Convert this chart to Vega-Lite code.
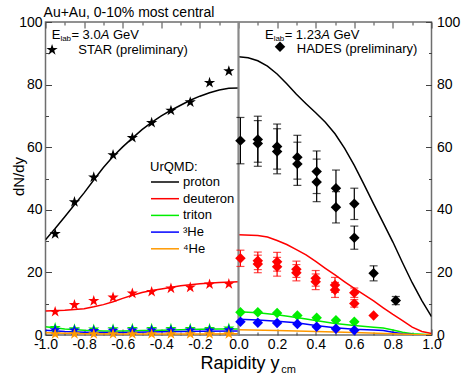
{
  "$schema": "https://vega.github.io/schema/vega-lite/v6.json",
  "width": 386,
  "height": 313,
  "autosize": {"type": "none"},
  "padding": {"left": 45.5, "top": 22, "right": 30.5, "bottom": 40},
  "background": "white",
  "config": {
    "font": "Liberation Sans",
    "view": {"stroke": "#6e6e6e", "strokeWidth": 1.5},
    "axis": {"domain": false, "grid": false, "tickColor": "#444444", "tickWidth": 1, "labelColor": "#000000", "labelFont": "Liberation Sans", "labelFontSize": 14, "titleFont": "Liberation Sans", "titleColor": "#000000", "titleFontWeight": "normal"}
  },
  "datasets": {
    "curves": [
      {"x": -1, "y": 30.4, "species": "proton", "side": "L"},
      {"x": -0.95, "y": 34.0, "species": "proton", "side": "L"},
      {"x": -0.9, "y": 37.8, "species": "proton", "side": "L"},
      {"x": -0.85, "y": 41.6, "species": "proton", "side": "L"},
      {"x": -0.8, "y": 45.4, "species": "proton", "side": "L"},
      {"x": -0.75, "y": 49.5, "species": "proton", "side": "L"},
      {"x": -0.7, "y": 53.5, "species": "proton", "side": "L"},
      {"x": -0.65, "y": 57.0, "species": "proton", "side": "L"},
      {"x": -0.6, "y": 60.1, "species": "proton", "side": "L"},
      {"x": -0.55, "y": 62.9, "species": "proton", "side": "L"},
      {"x": -0.5, "y": 65.6, "species": "proton", "side": "L"},
      {"x": -0.45, "y": 67.9, "species": "proton", "side": "L"},
      {"x": -0.4, "y": 70.0, "species": "proton", "side": "L"},
      {"x": -0.35, "y": 71.8, "species": "proton", "side": "L"},
      {"x": -0.3, "y": 73.4, "species": "proton", "side": "L"},
      {"x": -0.25, "y": 75.0, "species": "proton", "side": "L"},
      {"x": -0.2, "y": 76.3, "species": "proton", "side": "L"},
      {"x": -0.15, "y": 77.4, "species": "proton", "side": "L"},
      {"x": -0.1, "y": 78.3, "species": "proton", "side": "L"},
      {"x": -0.05, "y": 78.8, "species": "proton", "side": "L"},
      {"x": 0, "y": 78.9, "species": "proton", "side": "L"},
      {"x": 0, "y": 88.9, "species": "proton", "side": "R"},
      {"x": 0.05, "y": 88.6, "species": "proton", "side": "R"},
      {"x": 0.1, "y": 87.6, "species": "proton", "side": "R"},
      {"x": 0.15, "y": 85.9, "species": "proton", "side": "R"},
      {"x": 0.2, "y": 83.4, "species": "proton", "side": "R"},
      {"x": 0.25, "y": 80.3, "species": "proton", "side": "R"},
      {"x": 0.3, "y": 76.9, "species": "proton", "side": "R"},
      {"x": 0.35, "y": 73.9, "species": "proton", "side": "R"},
      {"x": 0.4, "y": 71.0, "species": "proton", "side": "R"},
      {"x": 0.45, "y": 68.0, "species": "proton", "side": "R"},
      {"x": 0.5, "y": 64.3, "species": "proton", "side": "R"},
      {"x": 0.55, "y": 59.6, "species": "proton", "side": "R"},
      {"x": 0.6, "y": 54.2, "species": "proton", "side": "R"},
      {"x": 0.65, "y": 48.1, "species": "proton", "side": "R"},
      {"x": 0.7, "y": 41.9, "species": "proton", "side": "R"},
      {"x": 0.75, "y": 35.8, "species": "proton", "side": "R"},
      {"x": 0.8, "y": 29.7, "species": "proton", "side": "R"},
      {"x": 0.85, "y": 23.1, "species": "proton", "side": "R"},
      {"x": 0.9, "y": 16.7, "species": "proton", "side": "R"},
      {"x": 0.95, "y": 11.0, "species": "proton", "side": "R"},
      {"x": 1, "y": 5.9, "species": "proton", "side": "R"},
      {"x": -1, "y": 7.7, "species": "deuteron", "side": "L"},
      {"x": -0.9, "y": 7.9, "species": "deuteron", "side": "L"},
      {"x": -0.8, "y": 8.4, "species": "deuteron", "side": "L"},
      {"x": -0.75, "y": 9.0, "species": "deuteron", "side": "L"},
      {"x": -0.7, "y": 9.7, "species": "deuteron", "side": "L"},
      {"x": -0.65, "y": 10.6, "species": "deuteron", "side": "L"},
      {"x": -0.6, "y": 11.7, "species": "deuteron", "side": "L"},
      {"x": -0.55, "y": 12.7, "species": "deuteron", "side": "L"},
      {"x": -0.5, "y": 13.6, "species": "deuteron", "side": "L"},
      {"x": -0.45, "y": 14.2, "species": "deuteron", "side": "L"},
      {"x": -0.4, "y": 14.7, "species": "deuteron", "side": "L"},
      {"x": -0.3, "y": 15.7, "species": "deuteron", "side": "L"},
      {"x": -0.2, "y": 16.4, "species": "deuteron", "side": "L"},
      {"x": -0.1, "y": 16.8, "species": "deuteron", "side": "L"},
      {"x": 0, "y": 17.0, "species": "deuteron", "side": "L"},
      {"x": 0, "y": 32.0, "species": "deuteron", "side": "R"},
      {"x": 0.1, "y": 31.8, "species": "deuteron", "side": "R"},
      {"x": 0.15, "y": 31.3, "species": "deuteron", "side": "R"},
      {"x": 0.2, "y": 30.2, "species": "deuteron", "side": "R"},
      {"x": 0.25, "y": 28.9, "species": "deuteron", "side": "R"},
      {"x": 0.3, "y": 27.3, "species": "deuteron", "side": "R"},
      {"x": 0.35, "y": 25.6, "species": "deuteron", "side": "R"},
      {"x": 0.4, "y": 23.5, "species": "deuteron", "side": "R"},
      {"x": 0.45, "y": 21.3, "species": "deuteron", "side": "R"},
      {"x": 0.5, "y": 19.2, "species": "deuteron", "side": "R"},
      {"x": 0.55, "y": 17.0, "species": "deuteron", "side": "R"},
      {"x": 0.6, "y": 14.9, "species": "deuteron", "side": "R"},
      {"x": 0.65, "y": 12.9, "species": "deuteron", "side": "R"},
      {"x": 0.7, "y": 10.9, "species": "deuteron", "side": "R"},
      {"x": 0.75, "y": 8.7, "species": "deuteron", "side": "R"},
      {"x": 0.8, "y": 6.6, "species": "deuteron", "side": "R"},
      {"x": 0.85, "y": 4.6, "species": "deuteron", "side": "R"},
      {"x": 0.9, "y": 2.5, "species": "deuteron", "side": "R"},
      {"x": 0.95, "y": 1.1, "species": "deuteron", "side": "R"},
      {"x": 1, "y": 0.5, "species": "deuteron", "side": "R"},
      {"x": -1, "y": 2.6, "species": "triton", "side": "L"},
      {"x": -0.9, "y": 1.9, "species": "triton", "side": "L"},
      {"x": -0.8, "y": 1.5, "species": "triton", "side": "L"},
      {"x": -0.7, "y": 1.3, "species": "triton", "side": "L"},
      {"x": -0.6, "y": 1.3, "species": "triton", "side": "L"},
      {"x": -0.5, "y": 1.4, "species": "triton", "side": "L"},
      {"x": -0.4, "y": 1.5, "species": "triton", "side": "L"},
      {"x": -0.3, "y": 1.7, "species": "triton", "side": "L"},
      {"x": -0.2, "y": 1.8, "species": "triton", "side": "L"},
      {"x": -0.1, "y": 1.9, "species": "triton", "side": "L"},
      {"x": 0, "y": 1.9, "species": "triton", "side": "L"},
      {"x": 0, "y": 7.4, "species": "triton", "side": "R"},
      {"x": 0.1, "y": 7.1, "species": "triton", "side": "R"},
      {"x": 0.2, "y": 6.5, "species": "triton", "side": "R"},
      {"x": 0.3, "y": 5.6, "species": "triton", "side": "R"},
      {"x": 0.4, "y": 4.6, "species": "triton", "side": "R"},
      {"x": 0.5, "y": 3.7, "species": "triton", "side": "R"},
      {"x": 0.6, "y": 3.0, "species": "triton", "side": "R"},
      {"x": 0.7, "y": 2.5, "species": "triton", "side": "R"},
      {"x": 0.75, "y": 2.2, "species": "triton", "side": "R"},
      {"x": 0.8, "y": 1.6, "species": "triton", "side": "R"},
      {"x": 0.85, "y": 0.9, "species": "triton", "side": "R"},
      {"x": 0.9, "y": 0.4, "species": "triton", "side": "R"},
      {"x": 1, "y": 0.1, "species": "triton", "side": "R"},
      {"x": -1, "y": 1.5, "species": "³He", "side": "L"},
      {"x": -0.9, "y": 1.1, "species": "³He", "side": "L"},
      {"x": -0.8, "y": 0.9, "species": "³He", "side": "L"},
      {"x": -0.7, "y": 0.8, "species": "³He", "side": "L"},
      {"x": -0.6, "y": 0.8, "species": "³He", "side": "L"},
      {"x": -0.4, "y": 1.0, "species": "³He", "side": "L"},
      {"x": -0.2, "y": 1.2, "species": "³He", "side": "L"},
      {"x": 0, "y": 1.3, "species": "³He", "side": "L"},
      {"x": 0, "y": 5.0, "species": "³He", "side": "R"},
      {"x": 0.1, "y": 4.8, "species": "³He", "side": "R"},
      {"x": 0.2, "y": 4.4, "species": "³He", "side": "R"},
      {"x": 0.3, "y": 3.9, "species": "³He", "side": "R"},
      {"x": 0.4, "y": 3.0, "species": "³He", "side": "R"},
      {"x": 0.5, "y": 2.3, "species": "³He", "side": "R"},
      {"x": 0.6, "y": 1.8, "species": "³He", "side": "R"},
      {"x": 0.7, "y": 1.6, "species": "³He", "side": "R"},
      {"x": 0.75, "y": 1.4, "species": "³He", "side": "R"},
      {"x": 0.8, "y": 0.9, "species": "³He", "side": "R"},
      {"x": 0.85, "y": 0.4, "species": "³He", "side": "R"},
      {"x": 0.9, "y": 0.15, "species": "³He", "side": "R"},
      {"x": 1, "y": 0.05, "species": "³He", "side": "R"},
      {"x": -1, "y": 0.7, "species": "⁴He", "side": "L"},
      {"x": -0.8, "y": 0.4, "species": "⁴He", "side": "L"},
      {"x": -0.6, "y": 0.3, "species": "⁴He", "side": "L"},
      {"x": -0.4, "y": 0.3, "species": "⁴He", "side": "L"},
      {"x": -0.2, "y": 0.35, "species": "⁴He", "side": "L"},
      {"x": 0, "y": 0.4, "species": "⁴He", "side": "L"},
      {"x": 0, "y": 1.7, "species": "⁴He", "side": "R"},
      {"x": 0.2, "y": 1.4, "species": "⁴He", "side": "R"},
      {"x": 0.4, "y": 1.1, "species": "⁴He", "side": "R"},
      {"x": 0.6, "y": 0.8, "species": "⁴He", "side": "R"},
      {"x": 0.8, "y": 0.4, "species": "⁴He", "side": "R"},
      {"x": 0.9, "y": 0.15, "species": "⁴He", "side": "R"},
      {"x": 1, "y": 0.05, "species": "⁴He", "side": "R"}
    ],
    "star": [
      {"x": -0.95, "y": 32.3, "species": "proton"},
      {"x": -0.85, "y": 42.5, "species": "proton"},
      {"x": -0.75, "y": 50.4, "species": "proton"},
      {"x": -0.65, "y": 57.5, "species": "proton"},
      {"x": -0.55, "y": 63.0, "species": "proton"},
      {"x": -0.45, "y": 67.8, "species": "proton"},
      {"x": -0.35, "y": 71.7, "species": "proton"},
      {"x": -0.25, "y": 74.4, "species": "proton"},
      {"x": -0.15, "y": 80.6, "species": "proton"},
      {"x": -0.05, "y": 84.3, "species": "proton"},
      {"x": -0.95, "y": 7.4, "species": "deuteron"},
      {"x": -0.85, "y": 9.6, "species": "deuteron"},
      {"x": -0.75, "y": 10.9, "species": "deuteron"},
      {"x": -0.65, "y": 12.0, "species": "deuteron"},
      {"x": -0.55, "y": 13.3, "species": "deuteron"},
      {"x": -0.45, "y": 13.8, "species": "deuteron"},
      {"x": -0.35, "y": 14.9, "species": "deuteron"},
      {"x": -0.25, "y": 15.2, "species": "deuteron"},
      {"x": -0.15, "y": 16.2, "species": "deuteron"},
      {"x": -0.05, "y": 16.3, "species": "deuteron"},
      {"x": -0.95, "y": 2.3, "species": "triton"},
      {"x": -0.85, "y": 1.9, "species": "triton"},
      {"x": -0.75, "y": 1.8, "species": "triton"},
      {"x": -0.65, "y": 1.9, "species": "triton"},
      {"x": -0.55, "y": 2.0, "species": "triton"},
      {"x": -0.45, "y": 2.0, "species": "triton"},
      {"x": -0.35, "y": 2.0, "species": "triton"},
      {"x": -0.25, "y": 2.0, "species": "triton"},
      {"x": -0.15, "y": 2.0, "species": "triton"},
      {"x": -0.05, "y": 2.1, "species": "triton"},
      {"x": -0.95, "y": 1.6, "species": "³He"},
      {"x": -0.85, "y": 1.5, "species": "³He"},
      {"x": -0.75, "y": 1.3, "species": "³He"},
      {"x": -0.65, "y": 1.4, "species": "³He"},
      {"x": -0.55, "y": 1.5, "species": "³He"},
      {"x": -0.45, "y": 1.5, "species": "³He"},
      {"x": -0.35, "y": 1.5, "species": "³He"},
      {"x": -0.25, "y": 1.5, "species": "³He"},
      {"x": -0.15, "y": 1.5, "species": "³He"},
      {"x": -0.05, "y": 1.6, "species": "³He"},
      {"x": -0.95, "y": 0.3, "species": "⁴He"},
      {"x": -0.85, "y": 0.3, "species": "⁴He"},
      {"x": -0.75, "y": 0.3, "species": "⁴He"},
      {"x": -0.65, "y": 0.3, "species": "⁴He"},
      {"x": -0.55, "y": 0.3, "species": "⁴He"},
      {"x": -0.45, "y": 0.3, "species": "⁴He"},
      {"x": -0.35, "y": 0.3, "species": "⁴He"},
      {"x": -0.25, "y": 0.3, "species": "⁴He"},
      {"x": -0.15, "y": 0.3, "species": "⁴He"},
      {"x": -0.05, "y": 0.3, "species": "⁴He"}
    ],
    "hades": [
      {"x": 0.01, "y": 62.1, "lo": 54.7, "hi": 69.5, "species": "proton"},
      {"x": 0.1, "y": 62.5, "lo": 55.2, "hi": 69.9, "species": "proton"},
      {"x": 0.1, "y": 61.2, "lo": 53.9, "hi": 68.5, "species": "proton"},
      {"x": 0.2, "y": 60.2, "lo": 53.0, "hi": 67.4, "species": "proton"},
      {"x": 0.2, "y": 58.6, "lo": 51.5, "hi": 65.9, "species": "proton"},
      {"x": 0.305, "y": 56.8, "lo": 49.8, "hi": 63.8, "species": "proton"},
      {"x": 0.305, "y": 54.6, "lo": 47.8, "hi": 61.6, "species": "proton"},
      {"x": 0.405, "y": 52.2, "lo": 45.2, "hi": 58.8, "species": "proton"},
      {"x": 0.405, "y": 48.9, "lo": 42.6, "hi": 56.2, "species": "proton"},
      {"x": 0.505, "y": 46.9, "lo": 41.1, "hi": 52.7, "species": "proton"},
      {"x": 0.505, "y": 40.8, "lo": 35.8, "hi": 45.8, "species": "proton"},
      {"x": 0.6, "y": 41.9, "lo": 36.9, "hi": 46.9, "species": "proton"},
      {"x": 0.6, "y": 31.1, "lo": 27.4, "hi": 34.8, "species": "proton"},
      {"x": 0.7, "y": 19.7, "lo": 17.3, "hi": 22.1, "species": "proton"},
      {"x": 0.815, "y": 11.0, "lo": 9.7, "hi": 12.3, "species": "proton"},
      {"x": 0.01, "y": 24.5, "lo": 21.9, "hi": 27.1, "species": "deuteron"},
      {"x": 0.1, "y": 23.7, "lo": 20.9, "hi": 26.5, "species": "deuteron"},
      {"x": 0.1, "y": 22.7, "lo": 19.9, "hi": 25.5, "species": "deuteron"},
      {"x": 0.2, "y": 23.4, "lo": 20.4, "hi": 26.4, "species": "deuteron"},
      {"x": 0.2, "y": 21.8, "lo": 18.8, "hi": 24.8, "species": "deuteron"},
      {"x": 0.3, "y": 21.0, "lo": 18.4, "hi": 23.6, "species": "deuteron"},
      {"x": 0.3, "y": 19.9, "lo": 17.3, "hi": 22.5, "species": "deuteron"},
      {"x": 0.4, "y": 18.1, "lo": 15.6, "hi": 20.6, "species": "deuteron"},
      {"x": 0.4, "y": 17.0, "lo": 14.5, "hi": 19.5, "species": "deuteron"},
      {"x": 0.5, "y": 16.0, "lo": 13.6, "hi": 18.4, "species": "deuteron"},
      {"x": 0.5, "y": 14.4, "lo": 12.0, "hi": 16.8, "species": "deuteron"},
      {"x": 0.6, "y": 13.5, "lo": 12.0, "hi": 15.0, "species": "deuteron"},
      {"x": 0.6, "y": 10.1, "lo": 8.9, "hi": 11.3, "species": "deuteron"},
      {"x": 0.7, "y": 6.2, "lo": null, "hi": null, "species": "deuteron"},
      {"x": 0.01, "y": 7.3, "lo": null, "hi": null, "species": "triton"},
      {"x": 0.1, "y": 7.3, "lo": null, "hi": null, "species": "triton"},
      {"x": 0.2, "y": 7.0, "lo": null, "hi": null, "species": "triton"},
      {"x": 0.305, "y": 6.2, "lo": null, "hi": null, "species": "triton"},
      {"x": 0.405, "y": 5.5, "lo": null, "hi": null, "species": "triton"},
      {"x": 0.505, "y": 4.7, "lo": null, "hi": null, "species": "triton"},
      {"x": 0.6, "y": 4.2, "lo": null, "hi": null, "species": "triton"},
      {"x": 0.01, "y": 4.2, "lo": null, "hi": null, "species": "³He"},
      {"x": 0.1, "y": 3.9, "lo": null, "hi": null, "species": "³He"},
      {"x": 0.2, "y": 3.8, "lo": null, "hi": null, "species": "³He"},
      {"x": 0.305, "y": 3.5, "lo": null, "hi": null, "species": "³He"},
      {"x": 0.405, "y": 2.6, "lo": null, "hi": null, "species": "³He"},
      {"x": 0.505, "y": 2.0, "lo": null, "hi": null, "species": "³He"},
      {"x": 0.6, "y": 1.5, "lo": null, "hi": null, "species": "³He"}
    ]
  },
  "layer": [
    {
      "data": {"name": "curves"},
      "mark": {"type": "line", "strokeWidth": 1.5, "clip": true},
      "encoding": {
        "x": {"field": "x", "type": "quantitative", "scale": {"domain": [-1, 1], "nice": false, "zero": false},
          "axis": {"orient": "bottom", "values": [-1, -0.9, -0.8, -0.7, -0.6, -0.5, -0.4, -0.3, -0.2, -0.1, 0, 0.1, 0.2, 0.3, 0.4, 0.5, 0.6, 0.7, 0.8, 0.9, 1],
            "labelExpr": "round(datum.value*10) % 2 == 0 ? (datum.value < -0.001 ? '-' : '') + format(abs(datum.value), '.1f') : ''",
            "tickSize": {"condition": {"test": "round(datum.value*10) % 2 != 0", "value": -3}, "value": -6},
            "labelPadding": 8.5, "labelFlush": false, "labelOverlap": false,
            "title": "Rapidity y", "titleFontSize": 18, "titleAlign": "left", "titleAnchor": "start", "titleX": 154.5, "titleY": 33.5, "titleBaseline": "alphabetic"}},
        "y": {"field": "y", "type": "quantitative", "scale": {"domain": [0, 100], "nice": false, "zero": false},
          "axis": {"orient": "left", "values": [0, 10, 20, 30, 40, 50, 60, 70, 80, 90, 100],
            "labelExpr": "datum.value % 20 == 0 ? datum.label : ''",
            "tickSize": {"condition": {"test": "datum.value % 20 != 0", "value": -3}, "value": -6},
            "labelPadding": 9.5, "labelFlush": false, "labelOverlap": false,
            "title": "dN/dy", "titleFontSize": 15, "titleAngle": 270, "titleAlign": "center", "titleBaseline": "middle", "titleX": -27.5, "titleY": 154}},
        "color": {"field": "species", "type": "nominal",
          "scale": {"domain": ["proton", "deuteron", "triton", "³He", "⁴He"], "range": ["#000000", "#ff0000", "#00ee00", "#0000ff", "#ff9900"]},
          "legend": {"title": "UrQMD:", "orient": "none", "legendX": 104.5, "legendY": 139, "symbolType": "M-1,0L3,0", "symbolSize": 196, "symbolStrokeWidth": 1.5, "labelFontSize": 13, "titleFontSize": 13, "titleFontWeight": "normal", "labelFont": "Liberation Sans", "titleFont": "Liberation Sans", "labelColor": "#000000", "titleColor": "#000000", "labelOffset": 17, "rowPadding": 1.7, "titlePadding": 0, "padding": 0}},
        "detail": {"field": "side"}
      }
    },
    {
      "data": {"values": [{}]},
      "mark": {"type": "rule", "color": "#8a8a8a", "strokeWidth": 2.2},
      "encoding": {"x": {"datum": 0, "axis": null}}
    },
    {
      "data": {"name": "star"},
      "mark": {"type": "point", "filled": true, "opacity": 1, "size": 140, "shape": "M0,-1L0.225,-0.309L0.951,-0.309L0.363,0.118L0.588,0.809L0,0.382L-0.588,0.809L-0.363,0.118L-0.951,-0.309L-0.225,-0.309Z"},
      "encoding": {
        "x": {"field": "x", "type": "quantitative",
          "axis": {"orient": "top", "values": [-1, -0.9, -0.8, -0.7, -0.6, -0.5, -0.4, -0.3, -0.2, -0.1, 0, 0.1, 0.2, 0.3, 0.4, 0.5, 0.6, 0.7, 0.8, 0.9, 1], "labels": false, "title": null,
            "tickSize": {"condition": {"test": "round(datum.value*10) % 2 != 0", "value": -3}, "value": -6}}},
        "y": {"field": "y", "type": "quantitative",
          "axis": {"orient": "right", "values": [0, 10, 20, 30, 40, 50, 60, 70, 80, 90, 100],
            "labelExpr": "datum.value % 20 == 0 ? datum.label : ''",
            "tickSize": {"condition": {"test": "datum.value % 20 != 0", "value": -3}, "value": -6},
            "labelPadding": 11, "labelFlush": false, "labelOverlap": false, "title": null}},
        "color": {"field": "species", "type": "nominal", "legend": null}
      }
    },
    {
      "data": {"name": "hades"},
      "mark": {"type": "rule", "strokeWidth": 1.2},
      "encoding": {
        "x": {"field": "x", "type": "quantitative", "axis": null},
        "y": {"field": "lo", "type": "quantitative", "axis": null},
        "y2": {"field": "hi"},
        "color": {"field": "species", "type": "nominal", "legend": null}
      }
    },
    {
      "data": {"name": "hades"},
      "mark": {"type": "tick", "orient": "horizontal", "size": 8, "thickness": 1.2},
      "encoding": {
        "x": {"field": "x", "type": "quantitative", "axis": null},
        "y": {"field": "lo", "type": "quantitative", "axis": null},
        "color": {"field": "species", "type": "nominal", "legend": null}
      }
    },
    {
      "data": {"name": "hades"},
      "mark": {"type": "tick", "orient": "horizontal", "size": 8, "thickness": 1.2},
      "encoding": {
        "x": {"field": "x", "type": "quantitative", "axis": null},
        "y": {"field": "hi", "type": "quantitative", "axis": null},
        "color": {"field": "species", "type": "nominal", "legend": null}
      }
    },
    {
      "data": {"name": "hades"},
      "mark": {"type": "point", "filled": true, "opacity": 1, "size": 110, "shape": "diamond"},
      "encoding": {
        "x": {"field": "x", "type": "quantitative", "axis": null},
        "y": {"field": "y", "type": "quantitative", "axis": null},
        "color": {"field": "species", "type": "nominal", "legend": null}
      }
    },
    {
      "data": {"values": [{}]},
      "mark": {"type": "text", "text": "Au+Au, 0-10% most central", "align": "left", "baseline": "alphabetic", "fontSize": 14, "font": "Liberation Sans", "color": "#000000"},
      "encoding": {"x": {"datum": -1.01, "axis": null}, "y": {"datum": 101.5, "axis": null}}
    },
    {
      "data": {"values": [{}]},
      "mark": {"type": "point", "filled": true, "opacity": 1, "size": 140, "color": "#000000", "shape": "M0,-1L0.225,-0.309L0.951,-0.309L0.363,0.118L0.588,0.809L0,0.382L-0.588,0.809L-0.363,0.118L-0.951,-0.309L-0.225,-0.309Z"},
      "encoding": {"x": {"datum": -0.966, "axis": null}, "y": {"datum": 91.1, "axis": null}}
    },
    {
      "data": {"values": [{}]},
      "mark": {"type": "point", "filled": true, "opacity": 1, "size": 110, "color": "#000000", "shape": "diamond"},
      "encoding": {"x": {"datum": 0.215, "axis": null}, "y": {"datum": 92.1, "axis": null}}
    },
    {
      "data": {"values": [{}]},
      "mark": {"type": "text", "text": "STAR (preliminary)", "align": "left", "baseline": "middle", "fontSize": 13, "font": "Liberation Sans", "color": "#000000"},
      "encoding": {"x": {"datum": -0.83, "axis": null}, "y": {"datum": 91.1, "axis": null}}
    },
    {
      "data": {"values": [{}]},
      "mark": {"type": "text", "text": "HADES (preliminary)", "align": "left", "baseline": "middle", "fontSize": 13, "font": "Liberation Sans", "color": "#000000"},
      "encoding": {"x": {"datum": 0.302, "axis": null}, "y": {"datum": 91.3, "axis": null}}
    },
    {
      "data": {"values": [{}]},
      "mark": {"type": "text", "text": "E", "align": "left", "baseline": "alphabetic", "fontSize": 13, "font": "Liberation Sans", "color": "#000000"},
      "encoding": {"x": {"datum": -0.968, "axis": null}, "y": {"datum": 94.6, "axis": null}}
    },
    {
      "data": {"values": [{}]},
      "mark": {"type": "text", "text": "lab", "align": "left", "baseline": "alphabetic", "fontSize": 8, "dx": 8.7, "font": "Liberation Sans", "color": "#000000"},
      "encoding": {"x": {"datum": -0.968, "axis": null}, "y": {"datum": 93.9, "axis": null}}
    },
    {
      "data": {"values": [{}]},
      "mark": {"type": "text", "text": "= 3.0", "align": "left", "baseline": "alphabetic", "fontSize": 13, "dx": 19.7, "font": "Liberation Sans", "color": "#000000"},
      "encoding": {"x": {"datum": -0.968, "axis": null}, "y": {"datum": 94.6, "axis": null}}
    },
    {
      "data": {"values": [{}]},
      "mark": {"type": "text", "text": "A", "align": "left", "baseline": "alphabetic", "fontSize": 13, "fontStyle": "italic", "dx": 49.0, "font": "Liberation Sans", "color": "#000000"},
      "encoding": {"x": {"datum": -0.968, "axis": null}, "y": {"datum": 94.6, "axis": null}}
    },
    {
      "data": {"values": [{}]},
      "mark": {"type": "text", "text": "GeV", "align": "left", "baseline": "alphabetic", "fontSize": 13, "dx": 61.3, "font": "Liberation Sans", "color": "#000000"},
      "encoding": {"x": {"datum": -0.968, "axis": null}, "y": {"datum": 94.6, "axis": null}}
    },
    {
      "data": {"values": [{}]},
      "mark": {"type": "text", "text": "E", "align": "left", "baseline": "alphabetic", "fontSize": 13, "font": "Liberation Sans", "color": "#000000"},
      "encoding": {"x": {"datum": 0.137, "axis": null}, "y": {"datum": 94.6, "axis": null}}
    },
    {
      "data": {"values": [{}]},
      "mark": {"type": "text", "text": "lab", "align": "left", "baseline": "alphabetic", "fontSize": 8, "dx": 8.7, "font": "Liberation Sans", "color": "#000000"},
      "encoding": {"x": {"datum": 0.137, "axis": null}, "y": {"datum": 93.9, "axis": null}}
    },
    {
      "data": {"values": [{}]},
      "mark": {"type": "text", "text": "= 1.23", "align": "left", "baseline": "alphabetic", "fontSize": 13, "dx": 19.7, "font": "Liberation Sans", "color": "#000000"},
      "encoding": {"x": {"datum": 0.137, "axis": null}, "y": {"datum": 94.6, "axis": null}}
    },
    {
      "data": {"values": [{}]},
      "mark": {"type": "text", "text": "A", "align": "left", "baseline": "alphabetic", "fontSize": 13, "fontStyle": "italic", "dx": 56.2, "font": "Liberation Sans", "color": "#000000"},
      "encoding": {"x": {"datum": 0.137, "axis": null}, "y": {"datum": 94.6, "axis": null}}
    },
    {
      "data": {"values": [{}]},
      "mark": {"type": "text", "text": "GeV", "align": "left", "baseline": "alphabetic", "fontSize": 13, "dx": 68.5, "font": "Liberation Sans", "color": "#000000"},
      "encoding": {"x": {"datum": 0.137, "axis": null}, "y": {"datum": 94.6, "axis": null}}
    },
    {
      "data": {"values": [{}]},
      "mark": {"type": "text", "text": "cm", "align": "left", "baseline": "alphabetic", "fontSize": 11, "font": "Liberation Sans", "color": "#000000"},
      "encoding": {"x": {"datum": 0.222, "axis": null}, "y": {"datum": -12.1, "axis": null}}
    }
  ],
  "resolve": {"axis": {"x": "independent", "y": "independent"}}
}
